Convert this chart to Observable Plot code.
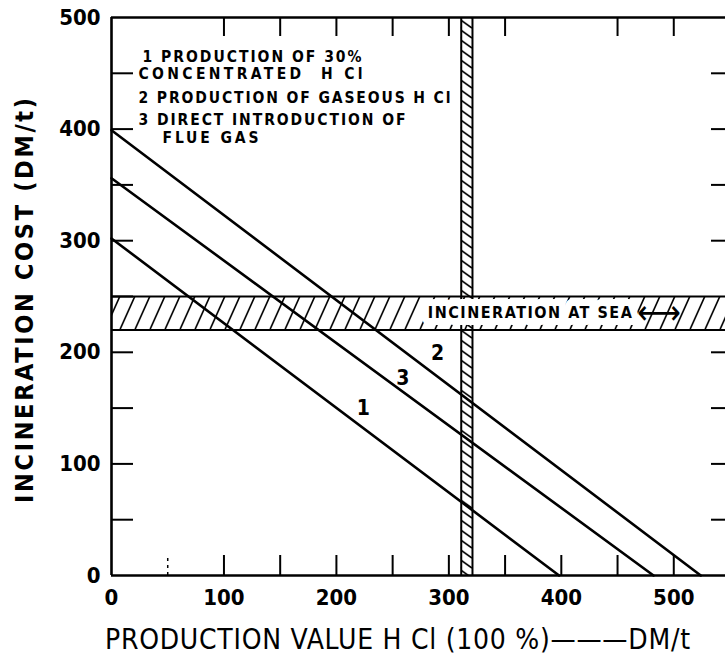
<!DOCTYPE html>
<html><head><meta charset="utf-8">
<script src="https://cdn.jsdelivr.net/npm/d3@7"></script>
<script src="https://cdn.jsdelivr.net/npm/@observablehq/plot@0.6"></script>
<style>
body{margin:0;background:#fff}
svg text{font-family:"DejaVu Sans Condensed","DejaVu Sans",sans-serif}
</style></head><body><div id="chart"></div>
<script>
// ---- data ----
const methodLabels = ["1", "2", "3"];
const costAtZeroValue = [302, 399, 356];   // incineration cost (DM/t) at production value 0
const valueAtZeroCost = [398, 524, 482];   // production value (DM/t) at incineration cost 0
const seaIncinerationCost = [220, 250];    // "incineration at sea" cost range
const hclProductionValue = [311, 321];     // vertical hatched band
const xTickLabels = [0, 100, 200, 300, 400, 500];
const yTickLabels = [0, 100, 200, 300, 400, 500];
const xBottomTicks = [100, 150, 200, 250, 300, 350, 400, 450, 500];
const xBottomDashedTicks = [50];
const xTopTicks = [100, 150, 200, 250, 300, 350, 450, 500];
const yLeftTicks = [50, 100, 150, 200, 250, 300, 350, 400, 450];
const yRightTicks = [50, 100, 150, 200, 300, 350, 400, 450];
const legendLines = ["1 PRODUCTION OF 30%", "CONCENTRATED  H Cl", "2 PRODUCTION OF GASEOUS H Cl", "3 DIRECT INTRODUCTION OF", "FLUE GAS"];
const lineLabelX = [224, 290, 259];
const lineLabelY = [150, 199, 177];
const seaLabel = "INCINERATION AT SEA";
const seaLabelX = 372;
const seaArrowX = 487;
const xTitle = "PRODUCTION VALUE H Cl (100 %)———DM/t";
const yTitle = "INCINERATION COST (DM/t)";

// ---- tables built from the arrays ----
const lineData = methodLabels.flatMap((m, i) => [
  {method: m, value: 0, cost: costAtZeroValue[i]},
  {method: m, value: valueAtZeroCost[i], cost: 0}
]);
const labelData = methodLabels.map((m, i) => ({method: m, x: lineLabelX[i], y: lineLabelY[i]}));
const seaBand = [{lo: seaIncinerationCost[0], hi: seaIncinerationCost[1]}];
const hclBand = [{lo: hclProductionValue[0], hi: hclProductionValue[1]}];
const seaMid = (seaIncinerationCost[0] + seaIncinerationCost[1]) / 2;

// ---- layout / style ----
const legendLayout = [[31, 40], [27, 57], [27, 81], [27, 103], [51, 121]];
const legendWidths = [219, 224, 312, 267, 96];
const font = "bold";
const wide = "DejaVu Sans";

const svg = Plot.plot({
  width: 725, height: 664,
  marginLeft: 111, marginRight: 0, marginTop: 17, marginBottom: 89,
  x: {domain: [0, 546], axis: null},
  y: {domain: [0, 500], axis: null},
  style: {background: "white", color: "black"},
  marks: [
    Plot.rect(seaBand, {y1: "lo", y2: "hi", fill: "url(#hatchH)"}),
    Plot.rect(hclBand, {x1: "lo", x2: "hi", fill: "url(#hatchV)"}),
    Plot.ruleY(seaIncinerationCost, {stroke: "black", strokeWidth: 2}),
    Plot.ruleX(hclProductionValue, {stroke: "black", strokeWidth: 2}),
    Plot.line(lineData, {x: "value", y: "cost", z: "method", stroke: "black", strokeWidth: 2.6}),
    // white knock-out behind the band label, then the label itself
    Plot.text([seaLabel], {x: seaLabelX, y: seaMid, text: d => d, fontSize: 16, fontWeight: font,
      stroke: "white", strokeWidth: 14, strokeLinejoin: "round", fill: "white"}),
    Plot.text([seaLabel], {x: seaLabelX, y: seaMid, text: d => d, fontSize: 16, fontWeight: font, fill: "black"}),
    Plot.text(["⟷"], {x: seaArrowX, y: seaMid, text: d => d, fontSize: 34, fill: "black"}),
    Plot.text(labelData, {x: "x", y: "y", text: "method", fontSize: 21, fontWeight: font, fontFamily: wide, fill: "black"}),
    Plot.ruleX([0], {stroke: "black", strokeWidth: 2.6}),
    Plot.ruleY([0, 500], {stroke: "black", strokeWidth: 2.6}),
    Plot.axisX(xBottomTicks, {anchor: "bottom", tickSize: -20, strokeWidth: 2, fill: "none", label: null}),
    Plot.axisX(xBottomDashedTicks, {anchor: "bottom", tickSize: -20, strokeWidth: 1.5, strokeDasharray: "3,4", fill: "none", label: null}),
    Plot.axisX(xTopTicks, {anchor: "top", tickSize: -18, strokeWidth: 2, fill: "none", label: null}),
    Plot.axisY(yLeftTicks, {anchor: "left", tickSize: -22, strokeWidth: 2, fill: "none", label: null}),
    Plot.axisY(yRightTicks, {anchor: "right", tickSize: -15, strokeWidth: 2, fill: "none", label: null}),
    Plot.axisX(xTickLabels, {anchor: "bottom", tickSize: 0, tickPadding: 14, fontSize: 22, fontWeight: font, fontFamily: wide, label: null, fill: "black"}),
    Plot.axisY(yTickLabels, {anchor: "left", tickSize: 0, tickPadding: 11, fontSize: 22, fontWeight: font, fontFamily: wide, label: null, fill: "black"}),
    ...legendLines.map((t, i) => Plot.text([t], {frameAnchor: "top-left", dx: legendLayout[i][0], dy: legendLayout[i][1],
      text: d => d, textAnchor: "start", lineAnchor: "middle", fontSize: 15.5, fontWeight: font, fill: "black"})),
    Plot.text([yTitle], {frameAnchor: "left", textAnchor: "middle", rotate: -90, dx: -87, dy: 4, text: d => d, fontSize: 25, fontWeight: font, fontFamily: wide, fill: "black"}),
    Plot.text([xTitle], {frameAnchor: "bottom", textAnchor: "middle", dx: -21, dy: 73, text: d => d, fontSize: 28, fill: "black"})
  ]
});

// hatch patterns aligned with the bands
const xs = svg.scale("x"), ys = svg.scale("y");
const hTop = ys.apply(seaIncinerationCost[1]), hBot = ys.apply(seaIncinerationCost[0]), hH = hBot - hTop;
const vL = xs.apply(hclProductionValue[0]), vW = xs.apply(hclProductionValue[1]) - vL;
const defs = d3.select(svg).insert("defs", ":first-child");
const pH = defs.append("pattern").attr("id", "hatchH").attr("patternUnits", "userSpaceOnUse")
  .attr("x", 0).attr("y", hTop).attr("width", 15).attr("height", hH);
pH.append("path").attr("d", `M-15,${hH}L0,0M0,${hH}L15,0M15,${hH}L30,0`).attr("stroke", "black").attr("stroke-width", 1.6).attr("fill", "none");
const pV = defs.append("pattern").attr("id", "hatchV").attr("patternUnits", "userSpaceOnUse")
  .attr("x", vL).attr("y", 0).attr("width", vW).attr("height", 10);
pV.append("path").attr("d", `M0,-10L${vW},-2M0,0L${vW},8M0,10L${vW},18`).attr("stroke", "black").attr("stroke-width", 1.6).attr("fill", "none");

// stretch lettering to the widths seen in the reference
const textWidths = new Map([
  ...legendLines.map((t, i) => [t, legendWidths[i]]),
  [seaLabel, 204], [yTitle, 405], [xTitle, 585]
]);
d3.select(svg).selectAll("text").each(function() {
  const w = textWidths.get(this.textContent);
  if (w) d3.select(this).attr("textLength", w).attr("lengthAdjust", "spacing");
});

document.getElementById("chart").append(svg);
</script></body></html>
